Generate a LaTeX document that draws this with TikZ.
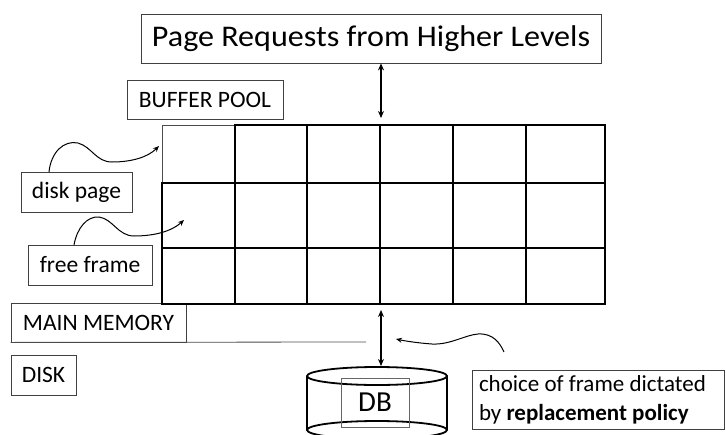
\documentclass[tikz,border=0pt]{standalone}
\usepackage{fontspec}
\setmainfont{Carlito}
\usetikzlibrary{arrows.meta}
\begin{document}
\begin{tikzpicture}[x=1pt,y=-1pt,
  lbl/.style={draw=black!75,line width=0.8pt,inner sep=0pt,font=\fontsize{23.5}{28}\selectfont},
  conn/.style={line width=1.6pt,{Stealth[length=7pt,width=6pt]}-{Stealth[length=7pt,width=6pt]}},
  curvy/.style={line width=1pt,-{Stealth[length=6pt,width=5pt]}},
  thickgrid/.style={line width=2pt,line cap=rect},
  midgrid/.style={line width=1.6pt},
  thingrid/.style={line width=1.1pt},
  greyline/.style={draw=black!70,line width=0.8pt},
  can/.style={line width=1.8pt}
]
\useasboundingbox (0,0) rectangle (726,434);

% label boxes
\node[lbl,minimum width=460pt,minimum height=49pt,font=\fontsize{30}{36}\selectfont] (req) at (371,38.5) {\scalebox{1.07}[1]{Page Requests from Higher Levels}};
\node[lbl,minimum width=156pt,minimum height=39pt] (bp) at (205,99.5) {BUFFER POOL};
\node[lbl,minimum width=111pt,minimum height=40pt] (dp) at (76.5,192) {disk page};
\node[lbl,minimum width=124pt,minimum height=40pt] (ff) at (90,265) {free frame};
\node[lbl,minimum width=175pt,minimum height=39pt] (mm) at (98.5,322.5) {MAIN MEMORY};
\node[lbl,minimum width=65pt,minimum height=40pt] (disk) at (43.5,375) {DISK};
\node[lbl,text width=238pt,inner xsep=7pt,minimum height=59pt,align=flush left,font=\fontsize{23}{29}\selectfont] (choice) at (598,399.5) {choice of frame dictated\\by \textbf{replacement policy}};

% main memory divider line
\coordinate (mmend) at (366,342);
\draw[greyline] (mm.south west) -- (mmend);

% buffer pool grid
\foreach \x in {235,307,380,453,526} \draw[midgrid] (\x,125) -- (\x,304);
\foreach \y in {183,248} \draw[thingrid] (162,\y) -- (605,\y);
\draw[greyline] (162,183) -- (162,125) -- (235,125);
\draw[thingrid] (307,125) -- (380,125);
\draw[thickgrid] (235,125) -- (307,125);
\draw[thickgrid] (380,125) -- (605,125) -- (605,304) -- (453,304);
\draw[thingrid] (453,304) -- (380,304);
\draw[thickgrid] (380,304) -- (162,304) -- (162,183);

% cylinder (DB)
\draw[can] (307,376) -- (307,430);
\draw[can] (447,376) -- (447,430);
\draw[can] (377,376) ellipse [x radius=70, y radius=9];
\draw[can] (377,430) ellipse [x radius=70, y radius=9];
\node[lbl,minimum width=68pt,minimum height=49pt,font=\fontsize{29}{34}\selectfont,draw=black!60] (db) at (375,402.5) {DB};

% connectors
\coordinate (gtop) at (381,118);
\coordinate (gbot) at (381,310);
\coordinate (dbtop) at (381,366);
\draw[conn] (req.south -| gtop) -- (gtop);
\draw[conn] (gbot) -- (dbtop);

% curved pointers
\coordinate (dpstart) at (49,172);
\coordinate (dptip) at (159,146);
\draw[curvy] (dpstart) .. controls (51,152) and (64,140) .. (78,143)
  .. controls (92,147) and (96,162) .. (112,162)
  .. controls (132,162) and (148,157) .. (dptip);
\coordinate (ffstart) at (74,245);
\coordinate (fftip) at (184,220);
\draw[curvy] (ffstart) .. controls (77,228) and (87,216) .. (99,217)
  .. controls (113,219) and (118,236) .. (134,236)
  .. controls (155,236) and (172,231) .. (fftip);
\coordinate (chstart) at (504,352);
\coordinate (chtip) at (396,339);
\draw[curvy] (chstart) .. controls (500,343) and (493,333) .. (478,334)
  .. controls (465,335) and (450,345) .. (432,344)
  .. controls (418,343) and (405,341) .. (chtip);
\end{tikzpicture}
\end{document}
